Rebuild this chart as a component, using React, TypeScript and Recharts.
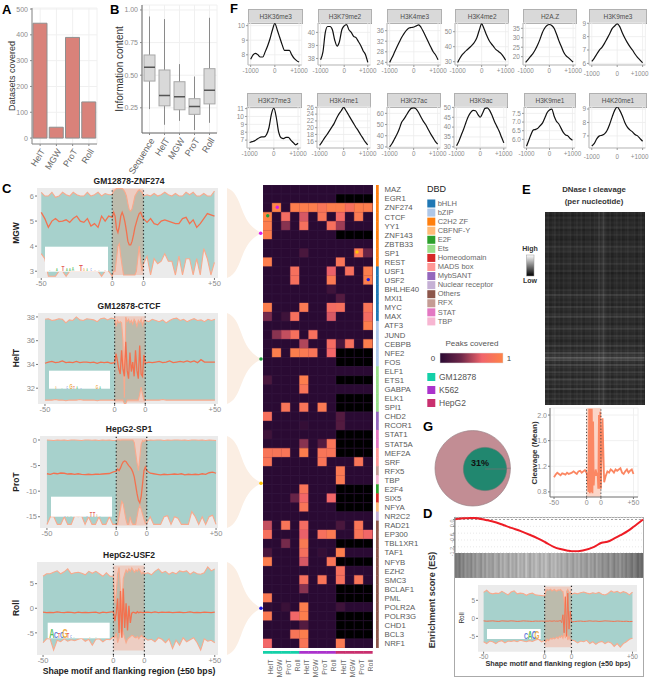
import React from "react";
import { BarChart, Bar, Cell, ComposedChart, Line, Area, XAxis, YAxis, CartesianGrid, ReferenceArea, ReferenceLine, PieChart, Pie } from "recharts";

const FONT = "'Liberation Sans', Arial, sans-serif";
const GREY = "#8c8c8c";

// ---- Panel A
const SHAPES = ["HelT", "MGW", "ProT", "Roll"];
const DATASETS = [445, 42, 390, 140];

// ---- Panel B
const BOX_NAMES = ["Sequence", "HelT", "MGW", "ProT", "Roll"];
const BOX_LOW = [0.24, 0.12, 0.15, 0.08, 0.135];
const BOX_Q1 = [0.455, 0.265, 0.235, 0.2, 0.28];
const BOX_MED = [0.56, 0.345, 0.335, 0.26, 0.385];
const BOX_Q3 = [0.655, 0.54, 0.45, 0.32, 0.55];
const BOX_HIGH = [0.95, 0.93, 0.585, 0.49, 0.94];

// ---- Panel F
const F_X = [-1000, -900, -800, -700, -600, -500, -400, -300, -200, -100, 0, 100, 200, 300, 400, 500, 600, 700, 800, 900, 1000];
const H3K36me3 = [7.7, 8, 8.1, 8, 7.85, 7.85, 8.2, 8.6, 9.1, 9.7, 10.15, 9.7, 9.2, 8.7, 8.3, 8.3, 8.3, 8, 7.75, 7.6, 7.5];
const H3K79me2 = [37.9, 38.5, 40, 40.45, 40.45, 40.2, 39.4, 38.95, 39.3, 40.2, 40.5, 40.6, 40.2, 40, 39.7, 39.6, 39.3, 39, 38.6, 38.3, 37.7];
const H3K4me3 = [24, 25.8, 27.8, 29.8, 31.7, 33.5, 35, 36.2, 37, 37.2, 37.4, 37.8, 38.2, 37.2, 35.5, 33.6, 31.7, 29.8, 28, 26.8, 25];
const H3K4me2 = [29.5, 32.5, 34.8, 36.5, 38, 39.5, 41, 43, 46, 51, 55.2, 52, 48, 44.5, 42, 40, 38, 36.8, 35.5, 33.5, 31];
const H2AZ = [17, 18.5, 20, 21.5, 23.5, 26, 29, 32.5, 35, 36.5, 37, 36.5, 35, 32, 28.5, 25.5, 22.5, 20.5, 19.5, 18.3, 17.2];
const H3K9me3 = [6.15, 6.4, 6.7, 7, 7.2, 7.5, 7.85, 8.2, 8.6, 8.8, 8.95, 8.75, 8.3, 7.9, 7.55, 7.25, 7, 6.7, 6.45, 6.25, 6.05];
const H3K27me3 = [6.7, 6.8, 6.9, 7.1, 7.3, 7.4, 7.4, 7.7, 8.6, 10.3, 11.05, 9.9, 8, 7.3, 7.2, 7.35, 7.35, 7, 6.7, 6.4, 6.6];
const H3K4me1 = [14.8, 15.8, 16.9, 17.9, 19, 20.1, 21.2, 22.7, 24, 25, 26, 25, 23.8, 22.6, 21.4, 20.2, 19.2, 18, 16.9, 15.8, 14.9];
const H3K27ac = [30, 33, 37, 41, 46, 52, 55, 58.5, 62, 64.5, 65, 64, 61, 57, 53, 50, 46, 42, 38.5, 35, 32.5];
const H3K9ac = [30.5, 33, 36, 39, 42.5, 45.5, 47.5, 48.5, 48.3, 46.5, 45, 47, 49.5, 49.8, 48.5, 46, 43, 40.5, 38, 35, 32];
const H3K9me1 = [5.6, 5.95, 6.3, 6.55, 6.58, 6.65, 6.8, 6.95, 7.25, 7.55, 7.7, 7.75, 7.35, 7.05, 6.9, 6.65, 6.4, 6.25, 6.2, 6.05, 5.95];
const H4K20me1 = [6.25, 6.45, 6.8, 7, 7.05, 7.15, 7.4, 7.85, 8.4, 8.9, 9.15, 8.9, 8.5, 8, 7.65, 7.45, 7.3, 7.1, 7, 6.8, 6.6];

// ---- Panels C / D / E: position along motif and flanks
const XS = [0, 2.5, 5, 7.5, 10, 12.5, 15, 17.5, 20, 22.5, 25, 27.5, 30, 32.5, 35, 37.5, 40, 42.5, 45, 47.5, 50,
  51, 52, 53, 54, 55, 56, 57, 58, 59, 60, 61, 62, 63, 64, 65, 66, 67, 68, 69, 70, 71,
  72, 74.5, 77, 79.5, 82, 84.5, 87, 89.5, 92, 94.5, 97, 99.5, 102, 104.5, 107, 109.5, 112, 114.5, 117, 119.5, 122];
const X_TICKS = [0, 50, 72, 122];
const X_LABELS: Record<number, string> = { 0: "-50", 50: "0", 72: "0", 122: "+50" };

const MGW_MEAN = [5.35, 5.1, 4.75, 5, 5.1, 4.98, 5, 5.05, 4.95, 5.1, 5.2, 5, 4.95, 5.1, 4.8, 4.9, 4.75, 5.2, 5, 5.2, 5.15,
  5.35, 5.2, 4.7, 4.55, 4.8, 5.2, 5.35, 5.2, 4.95, 4.6, 4.2, 4.05, 4.05, 4.2, 4.45, 4.75, 4.95, 5.15, 5.3, 5.35, 5.2,
  5.1, 4.95, 5.1, 4.9, 4.85, 5, 5.05, 5, 4.95, 4.9, 4.9, 5.1, 5.15, 4.9, 5.05, 4.75, 4.9, 5.1, 5.3, 5.25, 5.2];
const MGW_UP = [6.15, 6, 6, 6.15, 5.95, 6, 6.15, 6.05, 6, 6.15, 6.05, 6, 6, 6.15, 6, 6.05, 6.15, 6, 6.1, 6.05, 6.05,
  6.2, 6.25, 6.3, 6.3, 6.3, 6.3, 6.3, 6.25, 6.15, 6, 5.7, 5.45, 5.4, 5.5, 5.75, 6, 6.1, 6.2, 6.25, 6.2, 6.15,
  6, 6.05, 6, 6.1, 6, 6.05, 6.15, 6.05, 6, 6.1, 6, 6, 6.15, 6.05, 6.15, 6, 6, 6.1, 6, 6, 6.2];
const MGW_LOW = [3.7, 3.5, 2.8, 2.8, 2.8, 3, 3, 2.8, 3, 3, 3, 3, 3, 3, 3, 3, 3, 2.8, 3, 3, 2.8,
  3, 3, 3.5, 4, 4.1, 3.6, 3.2, 2.85, 2.85, 2.85, 2.85, 2.85, 2.85, 2.85, 2.85, 2.85, 3, 3.5, 4, 3.4, 3,
  3.3, 3.6, 2.85, 3.5, 3.3, 3.4, 3.7, 3.4, 3.4, 2.85, 3.6, 2.85, 3.5, 3.5, 2.85, 3.5, 2.85, 3.9, 3.5, 2.85, 3.35];

const HELT_MEAN = [34.1, 34.2, 34.25, 34.15, 34.2, 34.3, 34.15, 34.2, 34.15, 34.25, 34.15, 34.2, 34.2, 34.15, 34.2, 34.1, 34.2, 34.15, 34.2, 34.1, 34.15,
  34.9, 34.3, 33.6, 33.2, 35.2, 33.6, 33, 35.9, 33.5, 32.8, 35, 33.4, 34.2, 33, 35.2, 33.5, 32.8, 35.6, 33.2, 33, 34.8,
  34.1, 34.2, 34.15, 34.2, 34.25, 34.15, 34.2, 34.3, 34.15, 34.2, 34.25, 34.2, 34.3, 34.2, 34.3, 34.15, 34.4, 34.2, 34.2, 34.2, 34.2];
const HELT_UP = [37.8, 37.85, 37.7, 37.75, 37.85, 37.8, 37.5, 37.75, 37.7, 38, 37.75, 37.7, 37.85, 37.8, 37.75, 37.6, 37.85, 37.9, 37.75, 37.9, 37.85,
  37.2, 37.7, 37.5, 37.6, 37.5, 36, 31.2, 38, 37.6, 37.8, 37.5, 37.7, 37.4, 37.8, 37.6, 37.2, 37.7, 37.5, 37.8, 37.3, 37.7,
  37.7, 37.6, 37.8, 37.7, 37.6, 37.75, 37.5, 37.7, 37.85, 37.9, 37.7, 37.8, 37.6, 37.75, 37.85, 37.7, 37.75, 37.6, 37.8, 37.7, 37.8];
const HELT_LOW = [31, 31, 31, 31.05, 31, 31, 30.95, 31, 31, 31, 31.05, 31, 31, 31, 31, 30.95, 31, 31, 31, 31, 31,
  31, 31, 31, 31, 31, 31, 30.7, 30.7, 31, 31, 31, 31, 31, 31, 31, 31, 31, 31.5, 32.1, 31.5, 31,
  31, 31, 31, 31, 31, 31.05, 31, 31, 31, 31, 31, 31, 31, 31, 31, 31, 31, 31, 31, 31, 31];

const PROT_MEAN = [-6.6, -6.7, -6.5, -6.6, -6.45, -6.5, -6.65, -6.6, -6.7, -6.6, -6.7, -6.75, -6.7, -6.75, -6.7, -6.7, -6.65, -6.6, -6.55, -6.3, -6.1,
  -5.7, -6, -5.5, -4.8, -4.3, -4.1, -4.2, -4.6, -5, -5.3, -5.7, -6.3, -7.2, -8.8, -10.5, -11.8, -12.3, -11, -8.5, -6, -5.3,
  -6, -6.5, -6.6, -6.7, -6.8, -6.7, -6.75, -6.7, -6.65, -6.7, -6.6, -6.8, -6.7, -6.75, -6.7, -6.75, -6.6, -6.7, -6.4, -6.3, -6.5];
const PROT_UP = [0, -0.05, -0.1, 0, -0.05, 0, -0.1, 0, 0, -0.05, -0.1, 0, 0, -0.05, 0, -0.1, 0, -0.05, 0, -0.1, -0.05,
  0, 0, -0.05, 0, 0, 0, 0, 0, 0, 0, 0, 0, -0.5, -2.5, -4.5, -6, -3.5, -0.8, -0.1, -0.3, 0,
  -0.1, 0, -0.05, 0, 0, -0.1, 0, -0.05, 0, 0, -0.05, 0, -0.1, 0, 0, -0.05, 0, -0.1, 0, -0.05, -0.1];
const PROT_LOW = [-16.5, -15, -15, -16.5, -16.5, -15, -16.5, -16.5, -14.8, -15, -14.8, -16.5, -15, -16.5, -16.5, -15, -16.5, -16.5, -15, -16.5, -16.5,
  -16.5, -15, -13.5, -12, -12.5, -14, -15.5, -16.5, -16.5, -15, -16, -16.5, -16.5, -16.5, -15, -13.5, -12.8, -13.5, -14.5, -15.5, -16.3,
  -16.3, -15, -16.5, -16.5, -16.5, -15, -14.8, -16.5, -15, -15.3, -16.5, -16.5, -16.5, -14, -15, -16.5, -15, -16.5, -15, -14.7, -16.5];

const ROLL_MEAN = [-0.8, -0.9, -0.85, -0.9, -0.75, -0.85, -0.9, -0.8, -0.85, -0.95, -0.8, -0.9, -0.85, -0.9, -0.85, -0.8, -1, -0.8, -0.9, -0.8, -0.7,
  -2.6, -1, 2, -5, 3.5, -6, 4, -4, 1, -4.5, 0.5, -3, -1, -0.8, -0.9, -1, -0.7, -0.9, -0.8, -0.85, -0.9,
  -0.85, -0.8, -0.9, -0.75, -0.9, -0.8, -0.85, -0.8, -0.9, -0.85, -0.8, -0.9, -0.85, -0.75, -0.9, -0.85, -0.9, -0.8, -0.85, -0.9, -0.8];
const ROLL_UP = [6.5, 7, 7, 7.3, 7.6, 7, 7.4, 8, 7, 7.2, 7.3, 7.1, 6.8, 7.5, 7.1, 7.5, 7, 6.5, 7.2, 6.5, 6.5,
  1, 3, 7, 8.3, 4, -0.5, 6, 7, 7.8, 7.3, 8, 7.5, 8.2, 7.7, 7.3, 7.8, 7.5, 8, 7.6, 7, 7.3,
  7, 7.2, 6.8, 7.5, 8, 7.2, 7.5, 6.9, 7.3, 7, 7.6, 7.4, 7.6, 6.9, 7.4, 7, 6.9, 7.2, 8.4, 7.6, 8];
const ROLL_LOW = [-7, -6.2, -6.2, -8.5, -6.5, -6.8, -6.2, -6.7, -6.4, -6.6, -6.3, -6.1, -6.7, -6.3, -7.5, -6.3, -6.2, -6.8, -6.3, -6.4, -5.8,
  -6, -5, -7, -6, -4.5, -4, -5, -6, -7, -6.3, -6, -5.8, -5.5, -5.6, -5.9, -6, -5.7, -6.2, -5.8, -5.5, -5.9,
  -6, -6.5, -6.3, -6.8, -6, -6.3, -7, -6.2, -8.2, -6.5, -7.5, -6, -6.8, -6.4, -6, -7, -8.5, -6.2, -6.7, -6.5, -7];

const D_MEAN = [-0.7, -0.8, -0.75, -0.7, -0.8, -0.85, -0.7, -0.75, -0.8, -0.7, -0.75, -0.85, -0.8, -0.7, -0.75, -0.8, -0.85, -0.75, -0.8, -0.75, -0.8,
  -0.8, -0.75, -0.8, -0.7, -0.75, -0.8, -0.75, -0.7, -0.8, -0.75, -0.8, -0.7, -0.6, -1.2, 1, -4, 6, -5, 7, -3, 2,
  -1, -0.9, -0.8, -0.75, -0.85, -0.8, -0.7, -0.8, -0.75, -0.85, -0.8, -0.7, -0.75, -0.8, -0.85, -0.75, -0.8, -0.85, -0.8, -0.9, -0.85];
const D_UP = [7.2, 7.8, 7, 6.8, 7, 6.9, 7.5, 7, 6.5, 7.3, 7.6, 6.8, 7, 6.9, 6.4, 6.8, 7, 6.5, 6.4, 6.3, 6.2,
  7.5, 8, 7.8, 7.9, 8.1, 7.6, 7.8, 8, 7.7, 7.5, 7.9, 7.8, 8, 7.6, 7.5, 5, 1, 7.5, 8, 7, 7.4,
  6.6, 7, 6.8, 7.1, 7.3, 7, 6.8, 7.1, 6.9, 7.2, 6.7, 6.5, 6.9, 7.6, 7.2, 7.5, 7, 7.4, 7.1, 6.5, 7.3];
const D_LOW = [-6.5, -7, -6.3, -6.5, -7, -6.4, -6.2, -6.8, -6.3, -6.4, -6.2, -6.5, -6.1, -6.3, -6.5, -6.2, -6.4, -6, -5.8, -6.5, -6.1,
  -6.5, -5.8, -6.2, -5.9, -5.5, -5.8, -5.4, -5.7, -5.5, -5.2, -5.6, -5, -5.3, -4.8, -5.5, -4, -5.5, -3.5, -6, -5, -6,
  -6, -6.2, -6.8, -6.3, -6.5, -6.1, -7, -6.5, -7.2, -6.6, -6.4, -7, -6.5, -6.8, -7.8, -7, -8, -7, -6.5, -5.8, -5.5];

const CLEAVAGE = [1.03, 1.07, 1.1, 1.08, 1.06, 1.09, 1.08, 1.07, 1.1, 1.08, 1.09, 1.1, 1.12, 1.1, 1.08, 1.12, 1.13, 1.1, 1.12, 1.14, 1.1,
  1.05, 0.95, 0.8, 2.1, 0.78, 2.1, 0.8, 2.1, 0.78, 1.9, 0.9, 1.1, 1.05, 1.15, 1.1, 1.05, 1.1, 0.85, 2, 0.85, 2.05,
  0.85, 1.95, 0.95, 1.05, 1.12, 1.1, 1.15, 1.13, 1.1, 1.15, 1.13, 1.15, 1.17, 1.1, 1.08, 1.12, 1.15, 1.1, 1.13, 1.15, 1.08];

// ---- Heatmap
const TF_NAMES = ["MAZ", "EGR1", "ZNF274", "CTCF", "YY1", "ZNF143", "ZBTB33", "SP1", "REST", "USF1", "USF2", "BHLHE40", "MXI1", "MYC", "MAX", "ATF3", "JUND", "CEBPB", "NFE2", "FOS", "ELF1", "ETS1", "GABPA", "ELK1", "SPI1", "CHD2", "RCOR1", "STAT1", "STAT5A", "MEF2A", "SRF", "RFX5", "TBP", "E2F4", "SIX5", "NFYA", "NR2C2", "RAD21", "EP300", "TBL1XR1", "TAF1", "NFYB", "EZH2", "SMC3", "BCLAF1", "PML", "POLR2A", "POLR3G", "CHD1", "BCL3", "NRF1"];
const COL_SHAPES = ["HelT", "MGW", "ProT", "Roll", "HelT", "MGW", "ProT", "Roll", "HelT", "MGW", "ProT", "Roll"];
const N = -1;
const PEAKS = [
  [0, 0, 0, 0, 0, 0, 0, 0, 0, 0, 0, 0],
  [0, 0, 0, 0, 0, 0, 0, 0, N, N, N, N],
  [0, 1, 0, .95, .95, .95, .85, .95, .95, .8, .95, .95],
  [1, 0, .75, 0, .6, 0, .85, 0, .72, 0, .9, 0],
  [.95, 0, .4, 0, .8, 0, 0, .8, .45, 0, 0, 0],
  [.95, 0, 0, 0, 0, 0, 0, 0, N, N, N, N],
  [0, 0, 0, 0, 0, 0, 0, 0, 0, 0, 0, 0],
  [0, 0, 0, 0, .15, 0, 0, 0, 0, 0, .85, .3],
  [.95, 0, 0, 0, 0, 0, 0, 0, .85, 0, 0, 0],
  [0, 0, 0, .8, 0, 0, 0, .65, 0, .8, 0, .95],
  [0, 0, 0, .8, 0, 0, 0, .9, 0, 0, 0, .95],
  [0, 0, 0, 0, 0, 0, 0, .1, 0, 0, 0, 0],
  [0, 0, 0, 0, 0, 0, 0, 0, .2, 0, 0, 0],
  [.95, 0, 0, 0, .9, 0, 0, .75, .8, 0, 0, .85],
  [.35, 0, .1, .8, 0, 0, 0, .6, 0, 0, 0, .75],
  [0, 0, 0, 0, 0, 0, 0, 0, 0, 0, 0, .95],
  [0, .4, .55, .8, 0, .8, 0, 0, 0, 0, 0, 0],
  [0, 0, 0, 0, .5, 0, 0, .75, .15, .8, 0, .95],
  [0, .95, 0, .95, .9, .85, 0, .7, N, N, N, N],
  [0, 0, 0, 0, 0, 0, 0, 0, N, N, N, N],
  [0, 0, 0, 0, 0, 0, 0, 0, 0, 0, 0, 0],
  [.15, 0, 0, 0, .95, 0, 0, 0, N, N, N, N],
  [0, 0, 0, 0, .85, 0, 0, 0, 0, 0, 0, 0],
  [0, 0, 0, 0, 0, 0, 0, 0, N, N, N, N],
  [0, 0, .85, 0, .85, 0, .9, 0, N, N, N, N],
  [.8, 0, 0, 0, 0, 0, 0, 0, .2, 0, 0, 0],
  [0, 0, 0, 0, .05, 0, 0, 0, .2, 0, 0, 0],
  [.1, 0, 0, 0, 0, 0, 0, 0, N, N, N, N],
  [0, 0, 0, 0, .4, 0, .2, .85, N, N, N, N],
  [.85, .85, .85, 0, .95, 0, .85, .85, N, N, N, N],
  [.85, 0, 0, 0, 0, 0, .85, 0, 0, 0, .85, 0],
  [0, 0, 0, 0, 0, 0, 0, 0, .9, 0, 0, 0],
  [0, 0, 0, 0, 0, 0, 0, 0, .9, 0, 0, 0],
  [0, 0, 0, 0, .85, 0, 0, 0, N, N, N, N],
  [0, 0, 0, .3, .7, 0, 0, .7, N, N, N, N],
  [0, 0, 0, 0, .85, 0, 0, 0, N, N, N, N],
  [0, 0, 0, 0, 0, 0, 0, 0, 0, 0, 0, 0],
  [.55, 0, .85, 0, .75, 0, 0, 0, .15, 0, .85, 0],
  [.8, 0, 0, 0, .65, 0, .8, .9, 0, 0, .85, .7],
  [0, 0, .35, 0, .9, 0, 0, 0, N, N, N, N],
  [.15, 0, 0, 0, .8, 0, .05, 0, .95, 0, 0, 0],
  [.95, 0, 0, 0, .6, 0, 0, .85, N, N, N, N],
  [0, 0, 0, 0, 0, 0, 0, 0, .8, 0, 0, 0],
  [0, 0, 0, 0, .8, 0, .85, 0, .8, 0, .85, 0],
  [0, 0, 0, 0, .4, 0, 0, 0, N, N, N, N],
  [.9, 0, 0, 0, 0, 0, 0, 0, N, N, N, N],
  [.03, 0, .08, 0, .95, 0, 0, 0, .1, 0, 0, 0],
  [.9, 0, 0, .7, .95, 0, 0, 0, N, N, N, N],
  [0, 0, 0, 0, .2, 0, 0, 0, N, N, N, N],
  [0, 0, 0, .85, .95, 0, 0, 0, N, N, N, N],
  [.7, 0, 0, 0, .85, 0, 0, 0, .9, 0, 0, 0],
];

const DBD_NAMES = ["bHLH", "bZIP", "C2H2 ZF", "CBFNF-Y", "E2F", "Ets", "Homeodomain", "MADS box", "MybSANT", "Nuclear receptor", "Others", "RFX", "STAT", "TBP"];
const DBD_COLORS = ["#1f77b4", "#aec7e8", "#ff7f0e", "#ffbb78", "#2ca02c", "#98df8a", "#d62728", "#ff9896", "#9467bd", "#c5b0d5", "#8c564b", "#c49c94", "#e377c2", "#f7b6d2"];
const TF_DBD = [2, 2, 2, 2, 2, 2, 2, 2, 2, 0, 0, 0, 0, 0, 0, 1, 1, 1, 1, 1, 5, 5, 5, 5, 5, 8, 8, 12, 12, 7, 7, 11, 13, 4, 6, 3, 9, 10, 10, 10, 10, 10, 10, 10, 10, 10, 10, 10, 10, 10, 10];
const CELL_NAMES = ["GM12878", "K562", "HepG2"];
const CELL_COLORS = ["#14d0a8", "#ab33cc", "#c9306f"];
const COL_CELL = [0, 0, 0, 0, 1, 1, 1, 1, 2, 2, 2, 2];

// ---- Panel E heat rows / columns (grey level, 0-255)
const DNASE_ROWS = [38, 30, 42, 34, 40, 36, 46, 32, 38, 44, 34, 30, 40, 36, 52, 40, 46, 34, 32, 42, 38, 50, 36, 34, 44, 30, 38, 42, 34, 40, 36, 32, 46, 38, 58, 42, 36, 44, 34, 54, 40, 36, 48, 62, 38, 42, 34, 46, 58, 40, 36, 50, 44, 34, 42, 60, 38, 46, 66, 52, 88, 72, 44, 66, 48, 40, 58, 46, 36, 64, 42, 50, 38, 60, 34, 46, 40, 52, 36, 44];
const DNASE_COLS = [.02, .05, 0, .03, .06, .01, .04, 0, .05, .02, .04, .06, 0, .03, .05, .02, .06, 0, .04, .03, .05, .01, .06, .04, .1, .06, .14, .05, .02, .05, 0, .04, .06, .02, .05, .01, .04, .06, .02, .03, .05, 0, .04, .06, .02];
const BARCODE = [120, 130, 115, 140, 125, 150, 135, 145, 130, 155, 140, 160, 150, 138, 165, 145, 170, 155, 160, 148, 175, 165, 150, 178, 160, 180, 170, 155, 185, 165, 175, 160, 190, 170, 180, 165, 195, 175, 160, 185, 170, 192, 180, 165, 188, 172, 195, 178, 162, 185, 175, 190, 168, 180, 160, 178, 170, 155, 175, 165, 150, 172, 160, 175, 150, 165, 155, 145, 170, 150, 160, 140, 165, 148, 155, 135, 150, 145, 130, 155, 140, 125, 145, 135, 150, 130, 140, 120, 135, 125, 110, 130, 120, 100, 115, 105];

// ---- Panel D running score
const ES_RANK = [0, 5, 10, 17, 22, 26, 30, 35, 40, 44, 48, 52.5, 56, 60, 63, 68, 74, 78, 81, 85, 88, 92, 95, 100];
const ES_SCORE = [0.01, 0.05, 0.07, -0.03, -0.13, -0.25, -0.37, -0.51, -0.68, -0.83, -1, -1.2, -1.3, -1.37, -1.4, -1.36, -1.2, -1.02, -0.98, -0.82, -0.69, -0.5, -0.32, 0];

// ---- Panel G
const OVERLAP_OUTER = [{ name: "all", value: 100 }];
const OVERLAP_INNER = [{ name: "shared", value: 31 }];

// ---- helpers
function mix(a: string, b: string, t: number) {
  const pa = [1, 3, 5].map((i) => parseInt(a.slice(i, i + 2), 16));
  const pb = [1, 3, 5].map((i) => parseInt(b.slice(i, i + 2), 16));
  return "rgb(" + pa.map((v, i) => Math.round(v + (pb[i] - v) * t)).join(",") + ")";
}
const STOPS = ["#2a0a33", "#6e2749", "#f1646b", "#fe8348"];
function peakColor(v: number) {
  if (v < 0) return "#000000";
  const s = Math.min(v * 3, 2.9999);
  const i = Math.floor(s);
  return mix(STOPS[i], STOPS[i + 1], s - i);
}

function Slot({ p, l = 30, r = 14, t = 6, b = 20, children }: any) {
  const width = p.x1 - p.x0 + l + r;
  const height = p.y1 - p.y0 + t + b;
  return (
    <div style={{ position: "absolute", left: p.x0 - l, top: p.y0 - t, width, height }}>
      {children({ width, height, margin: { top: t, right: r, bottom: 0, left: 0 }, yw: l, xh: b })}
    </div>
  );
}
const tickStyle = (size = 7, fill = GREY) => ({ fontSize: size, fill, fontFamily: FONT });

function T({ x, y, s = 8, b = false, c = "#222", a = "start", r = 0, children }: any) {
  return (
    <text x={x} y={y} fontSize={s} fontWeight={b ? 700 : 400} fill={c} textAnchor={a} fontFamily={FONT} dominantBaseline="middle" transform={r ? `rotate(${r} ${x} ${y})` : undefined}>
      {children}
    </text>
  );
}
const NT: Record<string, string> = { A: "#3bb54a", C: "#3f5fd6", G: "#eea02c", T: "#e0403a" };
function Logo({ y, marks }: { y: number; marks: [string, number, number][] }) {
  return (
    <g opacity={0.85}>
      {marks.map(([ch, x, h], i) => (
        <text key={i} transform={`translate(${x} ${y}) scale(0.6 1)`} fontSize={h * 1.35} fontWeight={700} fill={NT[ch]} fontFamily={FONT} textAnchor="middle">
          {ch}
        </text>
      ))}
    </g>
  );
}

function ShapePanel({ p, xDom, yDom, yTicks, mean, up, low, pink, size = 7.5, lw = 1.3 }: any) {
  const rows = XS.map((x, i) => ({ x, mean: mean[i], up: up[i], low: low[i], band: [low[i], up[i]] }));
  return (
    <Slot p={p} l={p.x0 >= 400 ? 16 : 24} b={16}>
      {({ width, height, margin, yw, xh }: any) => (
        <ComposedChart width={width} height={height} margin={margin} data={rows}>
          <ReferenceArea x1={xDom[0]} x2={xDom[1]} y1={yDom[0]} y2={yDom[1]} fill="#ebebeb" fillOpacity={1} stroke="none" />
          <CartesianGrid stroke="#ffffff" strokeWidth={1} />
          <XAxis type="number" dataKey="x" domain={xDom} ticks={X_TICKS} allowDataOverflow tickFormatter={(v: number) => X_LABELS[v]} tick={tickStyle(size)} height={xh} tickSize={2} tickMargin={1} axisLine={false} tickLine={{ stroke: "#777" }} interval={0} />
          <YAxis type="number" domain={yDom} ticks={yTicks} allowDataOverflow tick={tickStyle(size)} width={yw} tickSize={2} tickMargin={1} axisLine={false} tickLine={{ stroke: "#777" }} interval={0} />
          <Area dataKey="band" type="linear" fill="#1f9e90" fillOpacity={0.33} stroke="none" isAnimationActive={false} dot={false} activeDot={false} />
          <ReferenceArea x1={50} x2={72} y1={pink[0]} y2={pink[1]} fill="#f6835a" fillOpacity={0.28} stroke="none" />
          <Line dataKey="up" type="linear" stroke="#f9a98c" strokeWidth={1.1} dot={false} activeDot={false} isAnimationActive={false} />
          <Line dataKey="low" type="linear" stroke="#f9a98c" strokeWidth={1.1} dot={false} activeDot={false} isAnimationActive={false} />
          <Line dataKey="mean" type="linear" stroke="#f3714f" strokeWidth={lw} dot={false} activeDot={false} isAnimationActive={false} />
          <ReferenceLine x={50} stroke="#222" strokeWidth={1.2} strokeDasharray="1.2 2.4" />
          <ReferenceLine x={72} stroke="#222" strokeWidth={1.2} strokeDasharray="1.2 2.4" />
        </ComposedChart>
      )}
    </Slot>
  );
}

function MiniPanel({ name, vals, p, yDom, yTicks, yFmt, edge }: any) {
  const rows = F_X.map((x, i) => ({ x, y: vals[i] }));
  const fmt = (v: number) => (v > 0 ? "+" + v : "" + v);
  const edgeTick = (props: any) => {
    const v = props.payload.value;
    return (
      <text x={v > 0 ? props.x - 3 : props.x} y={props.y + 7} textAnchor="middle" fontSize={6.3} fill={GREY} fontFamily={FONT}>
        {fmt(v)}
      </text>
    );
  };
  return (
    <>
      <div style={{ position: "absolute", left: p.x0, top: p.y0 - 14, width: p.x1 - p.x0 - 1, height: 13, background: "#d9d9d9", border: "0.5px solid #b0b0b0", borderBottom: "1px solid #8a8a8a", color: "#4d4d4d", fontSize: 6.5, lineHeight: "13px", textAlign: "center", fontFamily: FONT }}>{name}</div>
      <Slot p={p} l={16} r={edge ? 4 : 16} t={2} b={16}>
        {({ width, height, margin, yw, xh }: any) => (
          <ComposedChart width={width} height={height} margin={margin} data={rows}>
            <CartesianGrid stroke="#ececec" strokeWidth={0.8} />
            <XAxis type="number" dataKey="x" domain={[-1110, 1110]} ticks={[-1000, 0, 1000]} tickFormatter={fmt} tick={edge ? edgeTick : tickStyle(6.3)} height={xh} tickSize={2} tickMargin={2} axisLine={{ stroke: "#bbb" }} tickLine={{ stroke: "#999" }} interval={0} />
            <YAxis type="number" domain={yDom} ticks={yTicks} allowDataOverflow tickFormatter={yFmt} tick={tickStyle(6.5)} width={yw} tickSize={2} tickMargin={1} axisLine={{ stroke: "#bbb" }} tickLine={{ stroke: "#999" }} interval={0} />
            <Line dataKey="y" type="monotone" stroke="#111" strokeWidth={1.2} dot={false} activeDot={false} isAnimationActive={false} />
          </ComposedChart>
        )}
      </Slot>
    </>
  );
}

function BoxShape(props: any) {
  const { x, y, width, height, payload } = props;
  const k = height / (payload.high - payload.low);
  const Y = (v: number) => y + (payload.high - v) * k;
  const cx = x + width / 2;
  return (
    <g>
      <line x1={cx} x2={cx} y1={y} y2={y + height} stroke="#8a8a8a" strokeWidth={1} />
      <rect x={x} y={Y(payload.q3)} width={width} height={Y(payload.q1) - Y(payload.q3)} fill="#d9d9d9" stroke="#a8a8a8" strokeWidth={1} />
      <line x1={x} x2={x + width} y1={Y(payload.med)} y2={Y(payload.med)} stroke="#555" strokeWidth={1.5} />
    </g>
  );
}

const bandProps = { isAnimationActive: false } as const;

function PanelA() {
  const rows = SHAPES.map((name, i) => ({ name, v: DATASETS[i] }));
  return (
    <Slot p={{ x0: 32, y0: 8, x1: 97, y1: 144 }} l={26} r={8} t={4} b={30}>
      {({ width, height, margin, yw, xh }: any) => (
        <BarChart width={width} height={height} margin={margin} data={rows} barSize={14}>
          <CartesianGrid stroke="#f0f0f0" />
          <XAxis dataKey="name" tick={{ ...tickStyle(8.8, "#666") }} angle={-58} textAnchor="end" height={xh} tickSize={2} axisLine={{ stroke: "#888" }} tickLine={{ stroke: "#888" }} interval={0} />
          <YAxis domain={[-23, 504]} ticks={[0, 100, 200, 300, 400, 500]} allowDataOverflow tick={tickStyle(7)} width={yw} tickSize={2} axisLine={{ stroke: "#888" }} tickLine={{ stroke: "#888" }} interval={0} />
          <Bar dataKey="v" fill="#d9827a" stroke="#8f8f8f" strokeWidth={1} {...bandProps} />
        </BarChart>
      )}
    </Slot>
  );
}

function PanelB() {
  const rows = BOX_NAMES.map((name, i) => ({ name, range: [BOX_LOW[i], BOX_HIGH[i]], low: BOX_LOW[i], q1: BOX_Q1[i], med: BOX_MED[i], q3: BOX_Q3[i], high: BOX_HIGH[i] }));
  return (
    <Slot p={{ x0: 142, y0: 5, x1: 217, y1: 133 }} l={30} r={8} t={4} b={44}>
      {({ width, height, margin, yw, xh }: any) => (
        <BarChart width={width} height={height} margin={margin} data={rows} barSize={11}>
          <CartesianGrid stroke="#f0f0f0" />
          <XAxis dataKey="name" tick={{ ...tickStyle(9, "#666") }} angle={-58} textAnchor="end" height={xh} tickSize={2} axisLine={{ stroke: "#666" }} tickLine={{ stroke: "#888" }} interval={0} />
          <YAxis domain={[0.057, 1.038]} ticks={[0.25, 0.5, 0.75, 1]} tickFormatter={(v: number) => v.toFixed(2)} allowDataOverflow tick={tickStyle(7)} width={yw} tickSize={2} axisLine={{ stroke: "#666" }} tickLine={{ stroke: "#888" }} interval={0} />
          <Bar dataKey="range" shape={<BoxShape />} {...bandProps} />
        </BarChart>
      )}
    </Slot>
  );
}

function Heat() {
  const rows = TF_NAMES.map((tf) => ({ tf, ...Object.fromEntries(COL_SHAPES.map((_, c) => ["c" + c, 1])) }));
  const H = 463;
  return (
    <>
      <div style={{ position: "absolute", left: 263, top: 185, width: 109.5, height: H, background: "#2a0a33" }} />
      <div style={{ position: "absolute", left: 263, top: 185 }}>
        <BarChart width={158} height={H} layout="vertical" data={rows} margin={{ top: 0, right: 0, bottom: 0, left: 0 }} barCategoryGap={0}>
          <XAxis type="number" domain={[0, 12]} hide />
          <YAxis type="category" dataKey="tf" orientation="right" width={48.5} tick={tickStyle(7.8, "#5a5a5a")} tickLine={false} axisLine={false} tickMargin={6} interval={0} />
          {COL_SHAPES.map((_, c) => (
            <Bar key={c} dataKey={"c" + c} stackId="a" {...bandProps}>
              {TF_NAMES.map((_t, r) => {
                const f = peakColor(PEAKS[r][c]);
                return <Cell key={r} fill={f} stroke={PEAKS[r][c] > 0.05 ? f : "#3d2147"} strokeWidth={0.35} />;
              })}
            </Bar>
          ))}
        </BarChart>
      </div>
      <div style={{ position: "absolute", left: 376, top: 185 }}>
        <BarChart width={2.5} height={H} layout="vertical" data={TF_DBD.map((d) => ({ v: 1, d }))} margin={{ top: 0, right: 0, bottom: 0, left: 0 }} barCategoryGap={0}>
          <XAxis type="number" domain={[0, 1]} hide />
          <YAxis type="category" hide />
          <Bar dataKey="v" {...bandProps}>
            {TF_DBD.map((d, r) => (
              <Cell key={r} fill={DBD_COLORS[d]} stroke={DBD_COLORS[d]} strokeWidth={0.5} />
            ))}
          </Bar>
        </BarChart>
      </div>
      <div style={{ position: "absolute", left: 263, top: 651 }}>
        <BarChart width={109.5} height={27} data={COL_CELL.map((cl, i) => ({ i, name: COL_SHAPES[i], v: 1, cl }))} margin={{ top: 0, right: 0, bottom: 0, left: 0 }} barCategoryGap={0}>
          <XAxis dataKey="i" tickFormatter={(i: number) => COL_SHAPES[i]} tick={tickStyle(7, "#666")} angle={-90} textAnchor="end" height={24.5} tickLine={false} axisLine={false} tickMargin={1} interval={0} dy={-1} />
          <YAxis domain={[0, 1]} hide />
          <Bar dataKey="v" {...bandProps}>
            {COL_CELL.map((cl, i) => (
              <Cell key={i} fill={CELL_COLORS[cl]} stroke={CELL_COLORS[cl]} strokeWidth={0.5} />
            ))}
          </Bar>
        </BarChart>
      </div>
    </>
  );
}

function DnaseE() {
  return (
    <>
      <div style={{ position: "absolute", left: 545, top: 212, width: 99.5, height: 193, background: "#262626" }} />
      <div style={{ position: "absolute", left: 545, top: 212 }}>
        <BarChart width={99.5} height={193} layout="vertical" data={DNASE_ROWS.map((g, i) => ({ i, g, v: 1 }))} margin={{ top: 0, right: 0, bottom: 0, left: 0 }} barCategoryGap={0}>
          <XAxis type="number" domain={[0, 1]} hide />
          <YAxis type="category" dataKey="i" hide />
          <Bar dataKey="v" {...bandProps}>
            {DNASE_ROWS.map((g, i) => (
              <Cell key={i} fill={`rgb(${g},${g},${g})`} />
            ))}
          </Bar>
        </BarChart>
      </div>
      <div style={{ position: "absolute", left: 545, top: 212 }}>
        <BarChart width={99.5} height={193} data={DNASE_COLS.map((o, i) => ({ i, o, v: 1 }))} margin={{ top: 0, right: 0, bottom: 0, left: 0 }} barCategoryGap={0}>
          <XAxis dataKey="i" hide />
          <YAxis domain={[0, 1]} hide />
          <Bar dataKey="v" fill="#ffffff" {...bandProps}>
            {DNASE_COLS.map((o, i) => (
              <Cell key={i} fillOpacity={o} />
            ))}
          </Bar>
        </BarChart>
      </div>
    </>
  );
}

function CleavageMean() {
  const rows = XS.map((x, i) => ({ x, y: CLEAVAGE[i] }));
  return (
    <Slot p={{ x0: 550, y0: 408, x1: 638, y1: 497 }} l={22} r={10} t={4} b={16}>
      {({ width, height, margin, yw, xh }: any) => (
        <ComposedChart width={width} height={height} margin={margin} data={rows}>
          <CartesianGrid stroke="#f0f0f0" />
          <XAxis type="number" dataKey="x" domain={[-6.2, 129]} ticks={X_TICKS} allowDataOverflow tickFormatter={(v: number) => X_LABELS[v]} tick={tickStyle(7)} height={xh} tickSize={2} tickMargin={1} axisLine={{ stroke: "#777" }} tickLine={{ stroke: "#777" }} interval={0} />
          <YAxis type="number" domain={[0.72, 2.11]} ticks={[0.8, 1.2, 1.6, 2]} tickFormatter={(v: number) => v.toFixed(1)} allowDataOverflow tick={tickStyle(7)} width={yw} tickSize={2} tickMargin={1} axisLine={{ stroke: "#777" }} tickLine={{ stroke: "#777" }} interval={0} />
          <ReferenceArea x1={50} x2={72} y1={0.72} y2={2.11} fill="#fbd5c7" fillOpacity={1} stroke="none" />
          <Line dataKey="y" type="linear" stroke="#fb8763" strokeWidth={1.8} dot={false} activeDot={false} isAnimationActive={false} />
          <ReferenceLine x={50} stroke="#444" strokeWidth={1} strokeDasharray="1.2 2" />
          <ReferenceLine x={72} stroke="#444" strokeWidth={1} strokeDasharray="1.2 2" />
        </ComposedChart>
      )}
    </Slot>
  );
}

function PanelD() {
  const rows = ES_RANK.map((x, i) => ({ x, y: ES_SCORE[i] }));
  return (
    <>
      <div style={{ position: "absolute", left: 454, top: 516.5, width: 188, height: 158, border: "1px solid #aaa" }} />
      <Slot p={{ x0: 454.5, y0: 517, x1: 642.5, y1: 552.5 }} l={14} r={4} t={6} b={8}>
        {({ width, height, margin, yw, xh }: any) => (
          <ComposedChart width={width} height={height} margin={{ ...margin, bottom: xh }} data={rows}>
            <CartesianGrid stroke="#e8e8e8" strokeDasharray="1 2" vertical={false} />
            <XAxis type="number" dataKey="x" domain={[0, 100]} hide />
            <YAxis type="number" domain={[-1.45, 0.11]} ticks={[0, -0.3, -0.6, -0.9, -1.2]} tickFormatter={(v: number) => (v === -0.3 || v === -0.9 ? "" : v.toFixed(1))} allowDataOverflow tick={{ ...tickStyle(5.5), angle: -90 } as any} width={yw} tickSize={2} tickMargin={1} axisLine={{ stroke: "#888" }} tickLine={{ stroke: "#888" }} interval={0} />
            <ReferenceLine y={0} stroke="#888" strokeWidth={0.8} strokeDasharray="2 2" />
            <Line dataKey="y" type="monotone" stroke="#ee1c25" strokeWidth={2} dot={false} activeDot={false} isAnimationActive={false} />
          </ComposedChart>
        )}
      </Slot>
      <div style={{ position: "absolute", left: 454.5, top: 553, width: 188, height: 24.5, background: "#a5a5a5" }} />
      <div style={{ position: "absolute", left: 454.5, top: 553 }}>
        <BarChart width={188} height={24.5} data={BARCODE.map((g, i) => ({ i, g, v: 1 }))} margin={{ top: 0, right: 0, bottom: 0, left: 0 }} barCategoryGap={0}>
          <XAxis dataKey="i" hide />
          <YAxis domain={[0, 1]} hide />
          <Bar dataKey="v" {...bandProps}>
            {BARCODE.map((g, i) => (
              <Cell key={i} fill={`rgb(${g},${g},${g})`} stroke={`rgb(${g},${g},${g})`} strokeWidth={0.5} />
            ))}
          </Bar>
        </BarChart>
      </div>
      <ShapePanel p={{ x0: 477.7, y0: 585, x1: 636.7, y1: 651.7 }} xDom={[-4.6, 125.7]} yDom={[-9.25, 9.25]} yTicks={[-5, 0, 5]} mean={D_MEAN} up={D_UP} low={D_LOW} pink={[-8, 8.8]} size={6.5} lw={1} />
    </>
  );
}

function Overlap() {
  return (
    <div style={{ position: "absolute", left: 424, top: 420 }}>
      <PieChart width={90} height={88}>
        <Pie data={OVERLAP_OUTER} dataKey="value" cx={43.7} cy={43.3} outerRadius={37.7} innerRadius={0} fill="#c28d94" stroke="#9b8287" strokeWidth={0.7} isAnimationActive={false} />
        <Pie data={OVERLAP_INNER} dataKey="value" cx={56} cy={44} outerRadius={21.6} innerRadius={0} fill="#21876f" stroke="#5d7a72" strokeWidth={0.6} isAnimationActive={false} />
      </PieChart>
    </div>
  );
}

const CONNECT = [
  [188, 278, 233],
  [313, 404, 359],
  [436, 528, 483],
  [562, 655, 608],
];

export default function App() {
  return (
    <div style={{ position: "absolute", left: 0, top: 0, width: 650, height: 678, overflow: "hidden", background: "#fff", fontFamily: FONT }}>
      <svg width={650} height={678} style={{ position: "absolute", left: 0, top: 0 }}>
        {CONNECT.map(([a, b, c], i) => (
          <path key={i} d={`M227 ${a} C244 ${a + 6} 238 ${c - 10} 262 ${c} C238 ${c + 10} 244 ${b - 6} 227 ${b} Z`} fill="#fbeee3" />
        ))}
      </svg>
      <PanelA />
      <PanelB />
      <MiniPanel name="H3K36me3" vals={H3K36me3} p={{ x0: 248.3, y0: 23, x1: 302, y1: 65 }} yDom={[7.3, 10.18]} yTicks={[8, 9, 10]} />
      <MiniPanel name="H3K79me2" vals={H3K79me2} p={{ x0: 318.3, y0: 23, x1: 370.7, y1: 65 }} yDom={[37.5, 40.72]} yTicks={[38, 39, 40]} />
      <MiniPanel name="H3K4me3" vals={H3K4me3} p={{ x0: 387.3, y0: 23, x1: 441, y1: 65 }} yDom={[23, 38.9]} yTicks={[24, 28, 32, 36]} />
      <MiniPanel name="H3K4me2" vals={H3K4me2} p={{ x0: 455, y0: 23, x1: 508.3, y1: 65 }} yDom={[27.8, 55.8]} yTicks={[30, 40, 50]} />
      <MiniPanel name="H2A.Z" vals={H2AZ} p={{ x0: 523.3, y0: 23, x1: 576, y1: 65 }} yDom={[15.6, 37.8]} yTicks={[20, 25, 30, 35]} />
      <MiniPanel name="H3K9me3" vals={H3K9me3} p={{ x0: 589.3, y0: 23, x1: 645.7, y1: 65 }} yDom={[5.88, 9.02]} yTicks={[6, 7, 8, 9]} edge />
      <MiniPanel name="H3K27me3" vals={H3K27me3} p={{ x0: 247, y0: 107, x1: 300.7, y1: 148 }} yDom={[6, 11.2]} yTicks={[7, 8, 9, 10, 11]} />
      <MiniPanel name="H3K4me1" vals={H3K4me1} p={{ x0: 316.7, y0: 107, x1: 370, y1: 148 }} yDom={[14, 26.1]} yTicks={[16, 18, 20, 22, 24, 26]} />
      <MiniPanel name="H3K27ac" vals={H3K27ac} p={{ x0: 386.7, y0: 107, x1: 440, y1: 148 }} yDom={[29, 65.7]} yTicks={[30, 40, 50, 60]} />
      <MiniPanel name="H3K9ac" vals={H3K9ac} p={{ x0: 454.3, y0: 107, x1: 506.7, y1: 148 }} yDom={[29.4, 50.2]} yTicks={[30, 35, 40, 45, 50]} />
      <MiniPanel name="H3K9me1" vals={H3K9me1} p={{ x0: 524, y0: 107, x1: 575, y1: 148 }} yDom={[5.5, 7.87]} yTicks={[6, 6.5, 7, 7.5]} yFmt={(v: number) => v.toFixed(1)} />
      <MiniPanel name="H4K20me1" vals={H4K20me1} p={{ x0: 589.3, y0: 107, x1: 645.7, y1: 148 }} yDom={[6.1, 9.15]} yTicks={[7, 8, 9]} edge />

      <ShapePanel p={{ x0: 37, y0: 188, x1: 218, y1: 278 }} xDom={[-3, 124.5]} yDom={[2.73, 6.32]} yTicks={[3, 4, 5, 6]} mean={MGW_MEAN} up={MGW_UP} low={MGW_LOW} pink={[2.85, 6.3]} />
      <ShapePanel p={{ x0: 38, y0: 313, x1: 218, y1: 404 }} xDom={[-5, 124.2]} yDom={[30.67, 38.33]} yTicks={[32, 34, 36, 38]} mean={HELT_MEAN} up={HELT_UP} low={HELT_LOW} pink={[30.8, 38.05]} />
      <ShapePanel p={{ x0: 40, y0: 436, x1: 218, y1: 528 }} xDom={[-5, 123.4]} yDom={[-17.2, 0.78]} yTicks={[-15, -10, -5, 0]} mean={PROT_MEAN} up={PROT_UP} low={PROT_LOW} pink={[-16.7, 0.3]} />
      <ShapePanel p={{ x0: 37, y0: 562, x1: 218, y1: 655 }} xDom={[-4.3, 124.3]} yDom={[-9.5, 9.4]} yTicks={[-5, 0, 5]} mean={ROLL_MEAN} up={ROLL_UP} low={ROLL_LOW} pink={[-8.6, 8.7]} />

      <Heat />
      <DnaseE />
      <CleavageMean />
      <Overlap />
      <PanelD />

      <svg width={650} height={678} style={{ position: "absolute", left: 0, top: 0, pointerEvents: "none" }}>
        <T x={2} y={11} s={13} b c="#000">A</T>
        <T x={110} y={11} s={13} b c="#000">B</T>
        <T x={230} y={10} s={13} b c="#000">F</T>
        <T x={2} y={190} s={13} b c="#000">C</T>
        <T x={522} y={191} s={13} b c="#000">E</T>
        <T x={423} y={428} s={13} b c="#000">G</T>
        <T x={423} y={515} s={13} b c="#000">D</T>

        <T x={13} y={76} s={9} r={-90} a="middle" c="#333">Datasets covered</T>
        <T x={120} y={69} s={10} r={-90} a="middle" c="#333">Information content</T>

        <T x={129} y={182} s={8.5} b a="middle">GM12878-ZNF274</T>
        <T x={129} y={307} s={8.5} b a="middle">GM12878-CTCF</T>
        <T x={129} y={430} s={8.5} b a="middle">HepG2-SP1</T>
        <T x={129} y={556} s={8.5} b a="middle">HepG2-USF2</T>
        <T x={17} y={233} s={8.5} b r={-90} a="middle">MGW</T>
        <T x={17} y={358} s={8.5} b r={-90} a="middle">HelT</T>
        <T x={17} y={482} s={8.5} b r={-90} a="middle">ProT</T>
        <T x={17} y={608} s={8.5} b r={-90} a="middle">Roll</T>
        <T x={129} y={671.5} s={8.7} b a="middle">Shape motif and flanking region (±50 bps)</T>

        <rect x={45} y={246.7} width={63} height={25} fill="#fff" />
        <Logo y={271} marks={[["G", 50, 1.5], ["A", 57, 3], ["T", 63, 6], ["A", 67, 3], ["A", 70, 3], ["A", 73, 4], ["T", 81, 7], ["G", 84, 3], ["A", 87, 2], ["C", 91, 2], ["T", 95, 1.5], ["A", 99, 1.5], ["T", 105, 1.5]]} />
        <rect x={49} y={370.7} width={61} height={18} fill="#fff" />
        <Logo y={388.5} marks={[["G", 56, 2], ["A", 62, 1.5], ["C", 67, 2], ["G", 71, 5], ["T", 74, 3], ["A", 77, 2], ["C", 81, 1.5], ["G", 97, 4], ["A", 100, 2]]} />
        <rect x={51} y={496.7} width={61} height={20} fill="#fff" />
        <Logo y={516.5} marks={[["C", 65, 1.5], ["G", 68, 1.5], ["A", 71, 1.5], ["C", 87, 1.5], ["T", 91, 5], ["T", 94, 5], ["G", 97, 2], ["A", 100, 1.5]]} />
        <rect x={47.7} y={622.7} width={62} height={15.6} fill="#fff" />
        <Logo y={637.5} marks={[["A", 52, 9], ["C", 56, 7], ["T", 59, 5], ["C", 62, 7], ["G", 65, 9], ["T", 68, 5], ["C", 71, 2.5], ["A", 74, 1.5], ["G", 90, 1.5], ["A", 96, 1.5]]} />

        <circle cx={277.3} cy={207.3} r={1.7} fill="#d81fe8" />
        <circle cx={267.7} cy={215.7} r={1.7} fill="#1f9e3c" />
        <circle cx={357} cy={252} r={1.7} fill="#ffc107" />
        <circle cx={368.3} cy={279.6} r={1.7} fill="#1a1ae6" />
        <circle cx={260.7} cy={233.3} r={1.8} fill="#d81fe8" />
        <circle cx={261} cy={359} r={1.8} fill="#1f9e3c" />
        <circle cx={261} cy={483.3} r={1.8} fill="#ffc107" />
        <circle cx={261} cy={608.3} r={1.8} fill="#1a1ae6" />

        <T x={427} y={190} s={9} c="#222">DBD</T>
        {DBD_NAMES.map((name, i) => (
          <g key={name}>
            <rect x={427.3} y={199.5 + i * 9.07} width={8} height={8} fill={DBD_COLORS[i]} />
            <T x={437.7} y={203.7 + i * 9.07} s={7.5} c="#6a6a6a">{name}</T>
          </g>
        ))}
        <defs>
          <linearGradient id="peaks" x1="0" x2="1" y1="0" y2="0">
            {STOPS.map((c, i) => (
              <stop key={c} offset={i / 3} stopColor={c} />
            ))}
          </linearGradient>
          <linearGradient id="cut" x1="0" x2="0" y1="0" y2="1">
            <stop offset="0" stopColor="#fff" />
            <stop offset="1" stopColor="#000" />
          </linearGradient>
        </defs>
        <T x={472} y={344} s={8} c="#555" a="middle">Peaks covered</T>
        <rect x={440} y={353} width={63} height={10} fill="url(#peaks)" stroke="#ddd" strokeWidth={0.5} />
        <T x={433} y={358.5} s={8} c="#444" a="middle">0</T>
        <T x={509} y={358.5} s={8} c="#444" a="middle">1</T>
        {CELL_NAMES.map((name, i) => (
          <g key={name}>
            <rect x={427.3} y={373 + i * 13} width={8} height={8} fill={CELL_COLORS[i]} />
            <T x={439} y={377.5 + i * 13} s={8.5} c="#555">{name}</T>
          </g>
        ))}

        <T x={594} y={189.5} s={7.8} b a="middle" c="#333">DNase I cleavage</T>
        <T x={594} y={201.5} s={7.8} b a="middle" c="#333">(per nucleotide)</T>
        <T x={530} y={249} s={7} b a="middle" c="#333">High</T>
        <rect x={526.5} y={255} width={7.5} height={21} fill="url(#cut)" stroke="#999" strokeWidth={0.5} />
        <T x={530} y={281.5} s={7} b a="middle" c="#333">Low</T>
        <T x={535} y={453} s={8} b r={-90} a="middle" c="#333">Cleavage (Mean)</T>

        <T x={480} y={464} s={9} b a="middle" c="#111">31%</T>

        <T x={433} y={600} s={9} b r={-90} a="middle" c="#333">Enrichment score (ES)</T>
        <T x={462} y={618} s={6.5} r={-90} a="middle" c="#333">Roll</T>
        <T x={558} y={664.5} s={7.3} b a="middle" c="#333">Shape motif and flanking region (±50 bps)</T>
        <rect x={487} y={629} width={53.7} height={10} fill="#fff" />
        <Logo y={639} marks={[["C", 526, 7], ["A", 530, 8], ["C", 534, 8], ["G", 537, 8]]} />
      </svg>
    </div>
  );
}
